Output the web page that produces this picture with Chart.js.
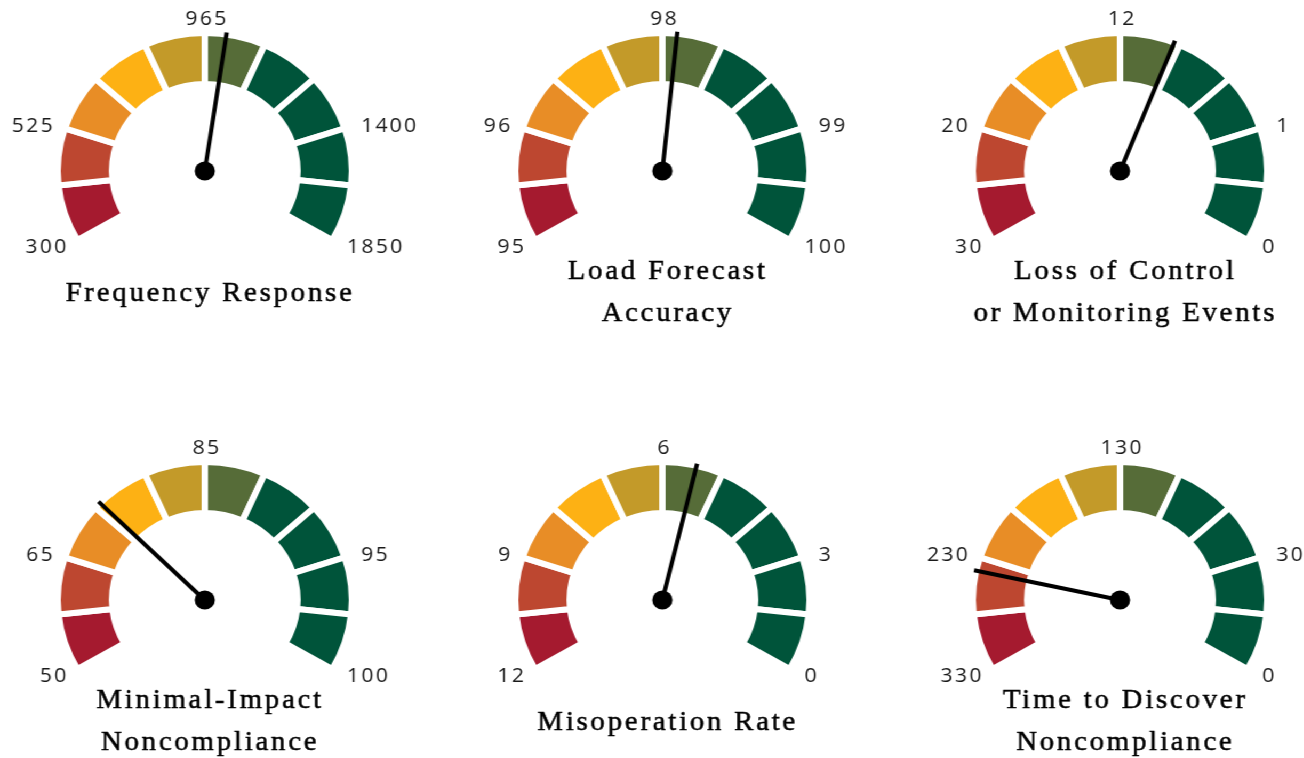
<!DOCTYPE html>
<html>
<head>
<meta charset="utf-8">
<script src="https://cdn.jsdelivr.net/npm/chart.js@4.4.1/dist/chart.umd.min.js"></script>
<style>
  html, body { margin: 0; padding: 0; background: #fff; overflow: hidden; }
  #stage {
    position: relative;
    width: 1222px;
    height: 758px;
    transform: scaleX(1.0667);
    transform-origin: 0 0;
  }
  #stage canvas { position: absolute; }
</style>
</head>
<body>
<div id="stage"></div>
<script>
// ten equal bands on every gauge
const segmentWeights = [1, 1, 1, 1, 1, 1, 1, 1, 1, 1];
const segmentColors = [
    '#A51A2F', // dark red
    '#BD4730', // brick
    '#E88D26', // orange
    '#FDB114', // amber
    '#C39A29', // gold
    '#566C38', // olive
    '#00543A', '#00543A', '#00543A', '#00543A' // green
];
// band boundaries where the tick labels sit
const tickSegments = [0, 2, 5, 8, 10];

const gaugeTitles = [
    ['Frequency Response'],
    ['Load Forecast', 'Accuracy'],
    ['Loss of Control', 'or Monitoring Events'],
    ['Minimal-Impact', 'Noncompliance'],
    ['Misoperation Rate'],
    ['Time to Discover', 'Noncompliance']
];
const gaugeTicks = [
    [300, 525, 965, 1400, 1850],
    [95, 96, 98, 99, 100],
    [30, 20, 12, 1, 0],
    [50, 65, 85, 95, 100],
    [12, 9, 6, 3, 0],
    [330, 230, 130, 30, 0]
];
const needleValues = [1016, 98.08, 8.7, 72.4, 5.44, 242];

// layout (unstretched px, the stage is scaled horizontally)
const gaugeCenters = [
    [192.2, 171], [621.3, 171], [1050, 171],
    [192.2, 599.5], [621.3, 599.5], [1050, 599.5]
];
const CW = 440, CH = 340, CENTER_Y = 175, RADIUS = 138;

function valueToAngle(value, ticks, angles) {
    for (let i = 0; i < ticks.length - 1; i++) {
        const v0 = ticks[i], v1 = ticks[i + 1];
        if (value >= Math.min(v0, v1) && value <= Math.max(v0, v1)) {
            return angles[i] + (value - v0) / (v1 - v0) * (angles[i + 1] - angles[i]);
        }
    }
    return angles[0];
}

const gaugeDecor = {
    id: 'gaugeDecor',
    afterDatasetsDraw(chart, args, opts) {
        const ctx = chart.ctx;
        const arcs = chart.getDatasetMeta(0).data;
        const cx = arcs[0].x, cy = arcs[0].y;
        const angles = tickSegments.map(i => i < arcs.length ? arcs[i].startAngle : arcs[arcs.length - 1].endAngle);

        ctx.save();
        // tick labels
        ctx.font = '20px "Open Sans"';
        ctx.fillStyle = '#1a1a1a';
        ctx.letterSpacing = '2px';
        ctx.textBaseline = 'alphabetic';
        opts.ticks.forEach((t, i) => {
            const a = angles[i];
            const c = Math.cos(a), s = Math.sin(a);
            if (Math.abs(c) < 0.2) {
                ctx.textAlign = 'center';
                ctx.fillText(String(t), cx + 2, cy - 146);
            } else if (c < 0) {
                ctx.textAlign = 'right';
                ctx.fillText(String(t), cx + 150 * c + 2, cy + 150 * s + 7);
            } else {
                ctx.textAlign = 'left';
                ctx.fillText(String(t), cx + 154 * c, cy + 150 * s + 7);
            }
        });

        // title
        ctx.font = '27px "Liberation Serif"';
        ctx.fillStyle = '#000';
        ctx.strokeStyle = '#000';
        ctx.lineWidth = 0.5;
        ctx.letterSpacing = '2.6px';
        ctx.textAlign = 'center';
        const lines = opts.title;
        const baselines = lines.length === 1 ? [130] : [108, 150];
        lines.forEach((line, i) => {
            ctx.fillText(line, cx + 5, cy + baselines[i]);
            ctx.strokeText(line, cx + 5, cy + baselines[i]);
        });
        ctx.letterSpacing = '0px';

        // needle
        const na = valueToAngle(opts.value, opts.ticks, angles);
        ctx.strokeStyle = '#000';
        ctx.lineWidth = 4;
        ctx.lineCap = 'butt';
        ctx.beginPath();
        ctx.moveTo(cx, cy);
        ctx.lineTo(cx + 140 * Math.cos(na), cy + 140 * Math.sin(na));
        ctx.stroke();
        ctx.fillStyle = '#000';
        ctx.beginPath();
        ctx.arc(cx, cy, 9.5, 0, Math.PI * 2);
        ctx.fill();
        ctx.restore();
    }
};

const stage = document.getElementById('stage');
gaugeTitles.forEach((title, g) => {
    const canvas = document.createElement('canvas');
    canvas.width = CW;
    canvas.height = CH;
    canvas.style.left = (gaugeCenters[g][0] - CW / 2) + 'px';
    canvas.style.top = (gaugeCenters[g][1] - CENTER_Y) + 'px';
    stage.appendChild(canvas);

    // chart area centre + 0.25 * radius is where the 240 degree arc is centred
    const padBottom = CH - 2 * (CENTER_Y - 0.25 * RADIUS);

    new Chart(canvas, {
        type: 'doughnut',
        data: {
            labels: segmentWeights.map((w, i) => 'Band ' + (i + 1)),
            datasets: [{
                data: segmentWeights,
                backgroundColor: segmentColors,
                borderColor: '#fff',
                borderWidth: 6,
                borderAlign: 'center',
                radius: RADIUS,
                cutout: '63%'
            }]
        },
        options: {
            responsive: false,
            animation: false,
            events: [],
            rotation: -120,
            circumference: 240,
            layout: { padding: { top: 0, bottom: padBottom, left: 0, right: 0 } },
            plugins: {
                legend: { display: false },
                tooltip: { enabled: false },
                gaugeDecor: {
                    ticks: gaugeTicks[g],
                    value: needleValues[g],
                    title: title
                }
            }
        },
        plugins: [gaugeDecor]
    });
});
</script>
</body>
</html>
